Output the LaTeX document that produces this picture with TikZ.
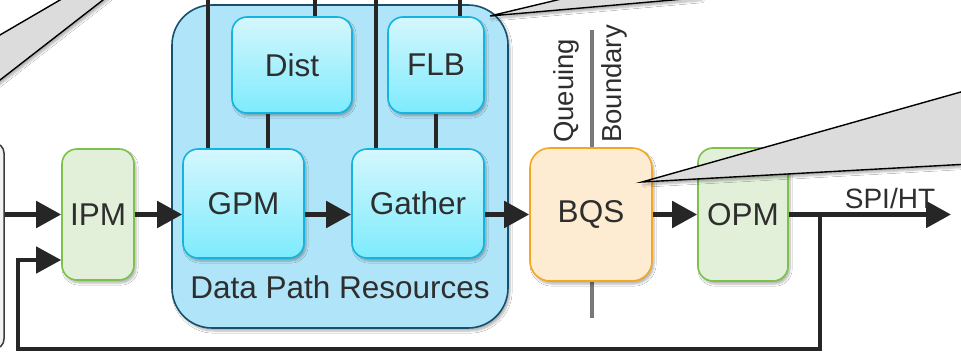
\documentclass[tikz,border=0pt]{standalone}
\usepackage{fontspec}
\setmainfont{Liberation Sans}
\usetikzlibrary{arrows.meta,shadows.blur}
\definecolor{txt}{HTML}{2E2E2E}
\definecolor{linec}{HTML}{262626}
\definecolor{dprfill}{HTML}{B0E4F8}
\definecolor{dprline}{HTML}{15506E}
\definecolor{cyantop}{HTML}{D5F7FD}
\definecolor{cyanbot}{HTML}{7DEBFD}
\definecolor{cyanline}{HTML}{14B4E0}
\definecolor{greenfill}{HTML}{E2F0D9}
\definecolor{greenline}{HTML}{7CC24A}
\definecolor{orangefill}{HTML}{FDECD2}
\definecolor{orangeline}{HTML}{F5A722}
\definecolor{callgray}{HTML}{DCDCDC}
\definecolor{qgray}{HTML}{787878}
\definecolor{extfill}{HTML}{F2F2F2}
\begin{document}
\begin{tikzpicture}[x=1pt,y=-1pt,
  shad/.style={blur shadow={shadow xshift=2pt, shadow yshift=-3pt, shadow blur steps=6, shadow opacity=30}},
  box/.style={rounded corners=15pt, line width=1.6pt, inner sep=0pt, shad,
    font=\fontsize{31.5}{36}\selectfont, text=txt},
  cyanbox/.style={box, draw=cyanline, top color=cyantop, bottom color=cyanbot},
  greenbox/.style={box, draw=greenline, fill=greenfill},
  orangebox/.style={box, draw=orangeline, fill=orangefill, rounded corners=20pt},
  arr/.style={line width=5pt, draw=linec, -{Triangle[length=25pt,width=26pt]}},
  wire/.style={line width=4.5pt, draw=linec},
  callout/.style={fill=callgray, draw=black, line width=1.4pt, line join=miter, shad},
  lbl/.style={font=\fontsize{31.5}{36}\selectfont, text=txt, inner sep=0pt},
  vlbl/.style={font=\fontsize{27.5}{32}\selectfont, text=txt, inner sep=0pt, rotate=90, anchor=base west}
]
\useasboundingbox (0,0) rectangle (961,352);
\fill[white] (0,0) rectangle (961,352);

% external box at left edge
\node[draw=linec!90, fill=extfill, line width=1.5pt, rounded corners=10pt,
  minimum width=60pt, minimum height=206pt, inner sep=0pt] (ext) at (-26,246) {};

% top-left callout
\path[callout] (-10,40.8) -- (66,-3.5) -- (108,-3.9) -- (-10,87.8) -- cycle;

% Data Path Resources container
\node[draw=dprline, fill=dprfill, line width=1.6pt, rounded corners=40pt,
  minimum width=336pt, minimum height=323pt, inner sep=0pt, shad] (DPR) at (340,166.5) {};
\node[lbl] (DPRlbl) at (340,287) {Data Path Resources};

% inner boxes
\node[cyanbox, minimum width=120pt, minimum height=96pt] (Dist) at (292,65) {Dist};
\node[cyanbox, minimum width=96pt, minimum height=96pt] (FLB) at (436,65) {FLB};
\node[cyanbox, minimum width=121pt, minimum height=109pt] (GPM) at (243.5,203.5) {GPM};
\node[cyanbox, minimum width=132pt, minimum height=109pt] (Gather) at (418,203.5) {Gather};

% top wires
\coordinate (t1) at (208,-5);
\coordinate (t2) at (315,-5);
\coordinate (t3) at (376,-5);
\coordinate (t4) at (460,-5);
\draw[wire] (t1) -- (t1 |- GPM.north);
\draw[wire] (t2) -- (t2 |- Dist.north);
\draw[wire] (t3) -- (t3 |- Gather.north);
\draw[wire] (t4) -- (t4 |- FLB.north);
\draw[wire] ([xshift=-24pt]Dist.south) -- ([xshift=-24pt]Dist.south |- GPM.north);
\draw[wire] (FLB.south) -- (FLB.south |- Gather.north);

% queuing boundary
\coordinate (qbT) at (592,30);
\coordinate (qbB) at (592,318);
\draw[line width=4.5pt, draw=qgray] (qbT) -- (qbB);
\node[vlbl] (Qlbl) at (573,143) {Queuing};
\node[vlbl] (Blbl) at (621,143) {Boundary};

% IPM, BQS, OPM
\node[greenbox, minimum width=72pt, minimum height=131pt] (IPM) at (98,214.5) {IPM};
\node[orangebox, minimum width=122pt, minimum height=133pt] (BQS) at (591,214.5) {BQS};
\node[greenbox, minimum width=90pt, minimum height=133pt] (OPM) at (743,214.5) {OPM};

% top callout from DPR corner
\path[callout] (490,16) -- (570,-3.1) -- (700,-2.4) -- cycle;
% right callout from BQS
\path[callout] (642,182) -- (980,86.6) -- (980,163.4) -- cycle;

% main data path arrows
\draw[arr] (ext.east |- IPM.west) -- (IPM.west);
\draw[arr] (IPM.east) -- (IPM.east -| GPM.west);
\draw[arr] (GPM.east |- IPM.east) -- (Gather.west |- IPM.east);
\draw[arr] (Gather.east |- BQS.west) -- (BQS.west);
\draw[arr] (BQS.east) -- (OPM.west);
\coordinate (out) at (951,214.5);
\draw[arr] (OPM.east) -- (out);
\node[font=\fontsize{28}{32}\selectfont, text=txt, inner sep=0pt, anchor=base] (spi) at (890,209) {SPI/HT};

% feedback loop
\coordinate (fb) at (820,214.5);
\coordinate (fbB) at (820,349);
\coordinate (fbL) at (18,349);
\coordinate (fbIn) at (62,260);
\draw[arr, line width=4.5pt] (fb) -- (fbB) -- (fbL) -- (fbL |- fbIn) -- (fbIn -| IPM.west);
\end{tikzpicture}
\end{document}
